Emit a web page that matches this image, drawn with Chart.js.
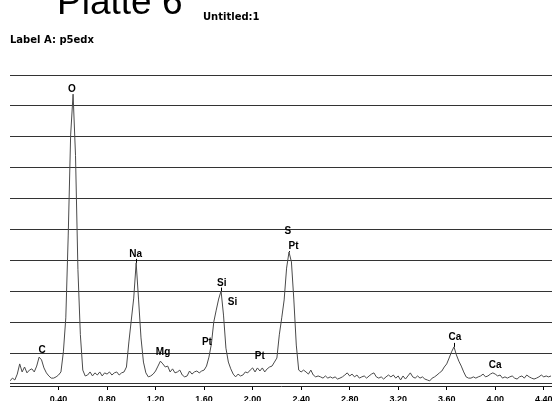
<!DOCTYPE html>
<html>
<head>
<meta charset="utf-8">
<script src="https://cdn.jsdelivr.net/npm/chart.js@4/dist/chart.umd.min.js"></script>
<style>
  html, body { margin: 0; padding: 0; background: #fff; }
  #wrap { width: 552px; height: 401px; position: relative; }
</style>
</head>
<body>
<div id="wrap"><canvas id="c" width="552" height="401"></canvas></div>
<script>
// EDX spectrum: channel calibration (keV)
const channelStart = 0;
const channelWidth = 0.02;

// Counts per channel, 0.00 .. 4.46 keV
const counts = [
  10, 19, 13, 32, 65, 39, 55, 36, 45, 49,
  39, 58, 87, 78, 52, 36, 26, 19, 19, 23,
  29, 39, 104, 214, 482, 806, 938, 740, 370, 160,
  45, 26, 29, 39, 26, 36, 29, 39, 26, 36,
  32, 39, 29, 36, 39, 29, 36, 39, 55, 136,
  207, 278, 392, 272, 149, 71, 36, 23, 26, 32,
  42, 58, 74, 65, 55, 58, 39, 49, 36, 39,
  45, 29, 23, 26, 42, 32, 39, 42, 36, 42,
  45, 58, 87, 129, 201, 239, 275, 301, 223, 116,
  71, 49, 32, 23, 32, 26, 29, 39, 36, 45,
  52, 39, 52, 42, 52, 39, 49, 55, 58, 71,
  84, 159, 214, 272, 375, 427, 395, 272, 126, 45,
  39, 45, 39, 32, 45, 29, 23, 26, 23, 19,
  26, 19, 23, 19, 23, 16, 19, 23, 29, 36,
  26, 32, 23, 29, 19, 23, 26, 19, 26, 32,
  36, 23, 19, 23, 16, 23, 29, 23, 29, 19,
  26, 13, 26, 16, 26, 36, 23, 19, 26, 19,
  23, 16, 13, 10, 19, 23, 29, 36, 42, 55,
  65, 84, 104, 120, 94, 74, 58, 39, 23, 19,
  19, 23, 19, 23, 26, 32, 23, 26, 32, 36,
  32, 26, 29, 19, 23, 19, 23, 26, 19, 16,
  23, 26, 19, 29, 23, 19, 16, 19, 23, 29,
  23, 26, 23, 26
];

// Axis ticks
const energyTicks = [0.4, 0.8, 1.2, 1.6, 2.0, 2.4, 2.8, 3.2, 3.6, 4.0, 4.4];
const countGrid = [0, 100, 200, 300, 400, 500, 600, 700, 800, 900, 1000];

// Element identifications (label anchor in keV / counts)
const peakNames       = ['C',   'O',   'Na',  'Mg',  'Pt',  'Si',  'Si',  'Pt',  'S',   'Pt',  'Ca',  'Ca'];
const peakLabelKeV    = [0.265, 0.51,  1.036, 1.262, 1.623, 1.745, 1.834, 2.059, 2.29,  2.338, 3.667, 4.00];
const peakLabelCounts = [100,   945,   411,   94,    126,   317,   256,   81,    485,   437,   142,   52];

// Marker lines from a label down to its peak
const markerKeV = [1.04, 1.74, 2.30, 3.66];
const markerTop = [405, 312, 430, 133];

// Header texts
const plotTitle = 'Platte 6';
const spectrumName = 'Untitled:1';
const labelLine = 'Label A: p5edx';

const points = counts.map((c, i) => ({ x: channelStart + i * channelWidth, y: c }));

const annotate = {
  id: 'annotate',
  afterDatasetsDraw(chart) {
    const { ctx, scales: { x, y } } = chart;
    ctx.save();
    ctx.strokeStyle = '#000';
    ctx.lineWidth = 1;
    markerKeV.forEach((e, i) => {
      const idx = Math.round((e - channelStart) / channelWidth);
      const px = Math.round(x.getPixelForValue(idx * channelWidth + channelStart)) + 0.5;
      ctx.beginPath();
      ctx.moveTo(px, y.getPixelForValue(markerTop[i]));
      ctx.lineTo(px, y.getPixelForValue(counts[idx]));
      ctx.stroke();
    });
    ctx.fillStyle = '#000';
    ctx.font = 'bold 10px "Liberation Sans", Arial, sans-serif';
    ctx.textAlign = 'center';
    ctx.textBaseline = 'alphabetic';
    peakNames.forEach((n, i) => {
      ctx.fillText(n, x.getPixelForValue(peakLabelKeV[i]), y.getPixelForValue(peakLabelCounts[i]));
    });
    ctx.restore();
  },
  afterDraw(chart) {
    const { ctx } = chart;
    ctx.save();
    ctx.fillStyle = '#000';
    ctx.textAlign = 'left';
    ctx.textBaseline = 'alphabetic';
    ctx.font = '37px "Liberation Sans", Arial, sans-serif';
    ctx.fillText(plotTitle, 57, 14);
    ctx.font = 'bold 10px "DejaVu Sans", sans-serif';
    ctx.fillText(spectrumName, 203, 20);
    ctx.fillText(labelLine, 10, 43);
    ctx.restore();
  }
};

new Chart(document.getElementById('c'), {
  type: 'line',
  data: {
    datasets: [{
      data: points,
      borderColor: '#4a4a4a',
      borderWidth: 1,
      pointRadius: 0,
      tension: 0,
      fill: false
    }]
  },
  options: {
    responsive: false,
    animation: false,
    devicePixelRatio: 1,
    layout: { padding: { left: 10, top: 75, right: 0, bottom: 0 } },
    plugins: { legend: { display: false }, tooltip: { enabled: false }, title: { display: false } },
    scales: {
      x: {
        type: 'linear',
        min: 0,
        max: 4.468,
        afterBuildTicks: s => { s.ticks = energyTicks.map(v => ({ value: v })); },
        afterFit: s => { s.height = 15; s.paddingLeft = 0; s.paddingRight = 0; },
        ticks: {
          autoSkip: false,
          maxRotation: 0,
          padding: 4,
          color: '#000',
          font: { family: '"Liberation Sans", Arial, sans-serif', size: 9, weight: 'bold' },
          callback: v => Number(v).toFixed(2)
        },
        grid: { drawOnChartArea: false, tickLength: 4, color: '#000' },
        border: { display: true, color: '#222', width: 1 }
      },
      y: {
        min: -6.5,
        max: 1000,
        afterBuildTicks: s => { s.ticks = countGrid.map(v => ({ value: v })); },
        afterFit: s => { s.width = 0; },
        ticks: { display: false },
        grid: { color: '#333', lineWidth: 1, drawTicks: false },
        border: { display: false }
      }
    }
  },
  plugins: [annotate]
});
</script>
</body>
</html>
